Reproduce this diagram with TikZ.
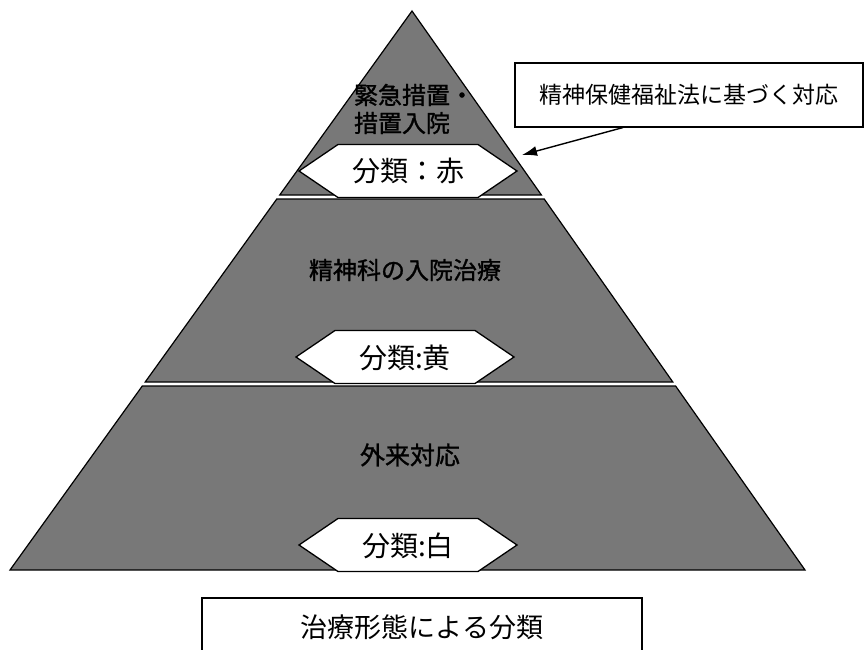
\documentclass[tikz,border=0pt]{standalone}
\usepackage{fontspec}
\setmainfont{Noto Sans CJK JP}
\newfontfamily\heavyfont[FakeBold=1.2]{Noto Sans CJK JP}
\usetikzlibrary{arrows.meta}
\definecolor{layergray}{gray}{0.47}
\tikzset{
  layer/.style={fill=layergray, draw=black, line width=1.2pt, line join=miter},
  hexline/.style={fill=white, draw=black, line width=1.3pt},
  hextext/.style={font=\fontsize{28}{32}\selectfont, inner sep=0pt},
  layertext/.style={black, inner sep=0pt, align=center},
  labelbox/.style={draw=black, line width=1.1pt, fill=white, inner sep=0pt},
  pics/hexbox/.style={code={
    \draw[hexline] (-109,0) -- (-70,26.5) -- (70,26.5) -- (109,0) -- (70,-26.5) -- (-70,-26.5) -- cycle;
  }},
}
\begin{document}
\begin{tikzpicture}[x=1pt, y=-1pt]
\useasboundingbox (0,0) rectangle (865,650);
\fill[white] (0,0) rectangle (865,650);
% pyramid layers
\draw[layer] (412,11) -- (541.4,195) -- (279.7,195) -- cycle;
\draw[layer] (276.8,199) -- (544.2,199) -- (672.8,382) -- (145.2,382) -- cycle;
\draw[layer] (142.3,386) -- (675.6,386) -- (805,570) -- (10,570) -- cycle;
% layer labels
\node[layertext, font=\heavyfont\fontsize{24}{30}\selectfont] (lab1) at (414,109) {緊急措置・\\[-2pt]措置入院\hphantom{・}};
\node[layertext, font=\heavyfont\fontsize{24}{30}\selectfont] (lab2) at (405,270) {精神科の入院治療};
\node[layertext, font=\heavyfont\fontsize{25}{30}\selectfont] (lab3) at (410,455) {外来対応};
% hexagon classification tags
\pic at (408,171) {hexbox};
\node[hextext] (red) at (408,171) {分類：赤};
\pic at (405,357) {hexbox};
\node[hextext] (yellow) at (405,358) {分類:黄};
\pic at (408,545) {hexbox};
\node[hextext] (whitec) at (408,546) {分類:白};
% law box and arrow
\node[labelbox, minimum width=348pt, minimum height=64pt, font=\fontsize{23}{26}\selectfont] (lawbox) at (689,95) {精神保健福祉法に基づく対応};
\coordinate (arrowtip) at (522,155);
\draw[line width=1.4pt, -{Latex[length=15pt, width=10pt]}] ([xshift=-66pt]lawbox.south) -- (arrowtip);
% caption box
\node[labelbox, minimum width=440pt, minimum height=58pt, font=\fontsize{27}{30}\selectfont] (caption) at (422,627) {治療形態による分類};
\end{tikzpicture}
\end{document}
